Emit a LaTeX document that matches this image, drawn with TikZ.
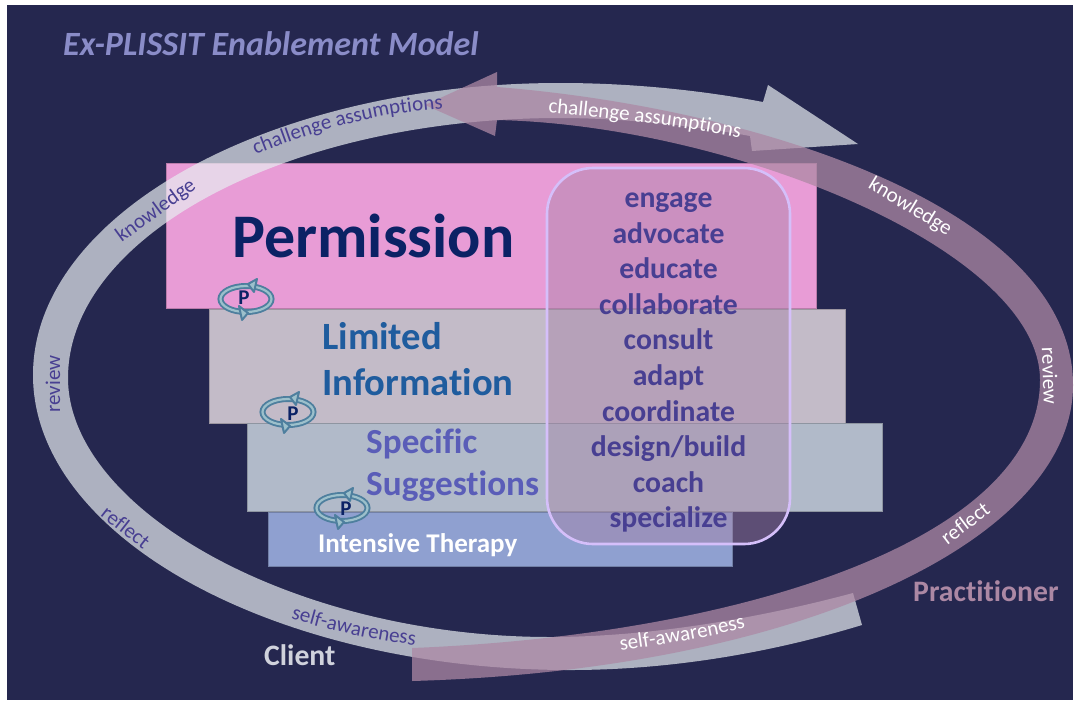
\documentclass[tikz,border=0pt]{standalone}
\usepackage{fontspec}
\setmainfont[Ligatures=NoCommon]{Carlito}
\usetikzlibrary{decorations.text}
\definecolor{bgc}{HTML}{25274F}
\definecolor{greyarrow}{HTML}{E7EDF0}
\definecolor{purplearrow}{HTML}{AC88A4}
\definecolor{tierA}{HTML}{E89CD6}
\definecolor{tierB}{HTML}{C3BBC8}
\definecolor{tierC}{HTML}{B1BAC9}
\definecolor{tierD}{HTML}{8FA0D0}
\definecolor{boxfill}{HTML}{A682A6}
\definecolor{boxline}{HTML}{D5BFFA}
\definecolor{verbc}{HTML}{483F92}
\definecolor{ringc}{HTML}{4E7F9E}
\definecolor{ringl}{HTML}{9CC0CB}
\definecolor{navy}{HTML}{0B2265}
\definecolor{limc}{HTML}{1F5C9E}
\definecolor{spec}{HTML}{5A5DB8}
\definecolor{titlec}{HTML}{8A8CC8}
\definecolor{clientc}{HTML}{D0D2DC}
\newcommand{\fs}[1]{\fontsize{#1}{#1}\selectfont}
\tikzset{
  tier/.style={draw=#1!80!black,line width=.6pt,fill=#1},
  lab/.style={anchor=base west,inner sep=0pt},
  verb/.style={font=\fs{29.7}\bfseries,text=verbc,inner sep=0pt,anchor=base},
  ongrey/.style={font=\fs{21},text=verbc,inner sep=0pt},
  onpurple/.style={font=\fs{21},text=white,inner sep=0pt},
  pletter/.style={inner sep=0pt,anchor=base,font=\fs{21}\bfseries,text=navy},
  ploop/.pic={
    \draw[ringc,line width=6pt] (0,0) ellipse (25.5 and 13);
    \draw[ringl,line width=2.2pt] (0,0) ellipse (25.5 and 13);
    \fill[ringl,draw=ringc,line width=2pt,line join=round] (2,-15) -- (11,-20) -- (8,-7) -- cycle;
    \fill[ringl,draw=ringc,line width=2pt,line join=round] (2,14) -- (-7,7) -- (-4,21) -- cycle;
  }
}
\begin{document}
\begin{tikzpicture}[x=1pt,y=-1pt]
\useasboundingbox (0,0) rectangle (1078,702);
\fill[white] (0,0) rectangle (1078,702);
\fill[bgc] (7,5) rectangle (1073,700);
% tiers
\draw[tier=tierA] (166,163) rectangle (816,308.5);
\draw[tier=tierB] (209,309) rectangle (845,423);
\draw[tier=tierC] (247,423) rectangle (882,511.5);
\draw[tier=tierD] (268,512) rectangle (732,566);
% grey arrow
\fill[greyarrow,opacity=.7]
  (862,625) .. controls (770,653) and (670,670) .. (570,670)
  .. controls (275,670) and (33,537) .. (33,375)
  .. controls (33,214) and (270,83) .. (560,83)
  .. controls (630,83) and (700,90) .. (763,102)
  -- (768,85) -- (858,144) -- (752,151) -- (750,136)
  .. controls (690,125) and (620,118) .. (560,118)
  .. controls (289,118) and (68,235) .. (68,378)
  .. controls (68,510) and (295,637) .. (550,637)
  .. controls (650,637) and (760,618) .. (853,593)
  -- cycle;
% purple arrow
\fill[purplearrow,opacity=.75]
  (412,681) .. controls (800,670) and (1073,540) .. (1073,385)
  .. controls (1073,210) and (760,108) .. (497,87)
  -- (497,72) -- (425,105) -- (495,136) -- (497,120)
  .. controls (730,125) and (1040,250) .. (1040,380)
  .. controls (1040,540) and (740,635) .. (412,648)
  -- cycle;
% central box
\draw[fill=boxfill,fill opacity=.44,draw=boxline,line width=2.6pt,rounded corners=46pt] (547,168) rectangle (790,544);
% tier labels
\node[lab,font=\fs{62}\bfseries,text=navy] (perm) at (232,257) {Permission};
\node[lab,font=\fs{38.6}\bfseries,text=limc] (lim) at (322,349) {Limited};
\node[lab,font=\fs{38.6}\bfseries,text=limc] (inf) at (322,395) {Information};
\node[lab,font=\fs{35.2}\bfseries,text=spec] (spe) at (366,453.5) {Specific};
\node[lab,font=\fs{35.2}\bfseries,text=spec] (sug) at (366,495) {Suggestions};
\node[lab,font=\fs{27}\bfseries,text=white] (int) at (318,552) {Intensive Therapy};
% verbs
\foreach \n/\t/\y in {v1/engage/207,v2/advocate/243,v3/educate/278.6,v4/collaborate/314.2,v5/consult/349.8,v6/adapt/385.4,v7/coordinate/421,v8/design\slash build/456.4,v9/coach/492.4,v10/specialize/527.6}
  \node[verb] (\n) at (668.5,\y) {\t};
% title and actors
\node[lab,font=\fs{34}\bfseries\itshape,text=titlec] (title) at (63,55) {Ex-PLISSIT Enablement Model};
\node[lab,font=\fs{29.7}\bfseries,text=clientc] (client) at (264,665) {Client};
\node[lab,font=\fs{29.7}\bfseries,text=purplearrow] (pract) at (913,601) {Practitioner};
% grey arrow labels
\path[decorate,decoration={text along path,text align=center,text={|\fs{21}\color{verbc}|challenge assumptions}}] (250,157) .. controls (315,130) and (380,112) .. (449,108);
\node[ongrey,rotate=36] (gk) at (156,211) {knowledge};
\node[ongrey,rotate=90] (gr) at (53,384) {review};
\node[ongrey,rotate=-38] (gf) at (126,527) {reflect};
\path[decorate,decoration={text along path,text align=center,text={|\fs{21}\color{verbc}|self-awareness}}] (286,617) .. controls (330,631) and (375,640) .. (420,646);
% purple arrow labels
\path[decorate,decoration={text along path,text align=center,text={|\fs{21}\color{white}|challenge assumptions}}] (543,112) .. controls (610,118) and (680,126) .. (745,139);
\node[onpurple,rotate=-31] (pk) at (910,207) {knowledge};
\node[onpurple,rotate=-88] (pr) at (1050,376) {review};
\node[onpurple,rotate=37] (pf) at (965,523) {reflect};
\path[decorate,decoration={text along path,text align=center,text={|\fs{21}\color{white}|self-awareness}}] (616,651) .. controls (660,645) and (705,638) .. (750,627);
% loops
\pic at (246,299) {ploop};
\pic at (288,412) {ploop};
\pic at (342,508) {ploop};
\node[pletter] (p1) at (244,304) {P};
\node[pletter] (p2) at (293,420) {P};
\node[pletter] (p3) at (346,515) {P};
\end{tikzpicture}
\end{document}
